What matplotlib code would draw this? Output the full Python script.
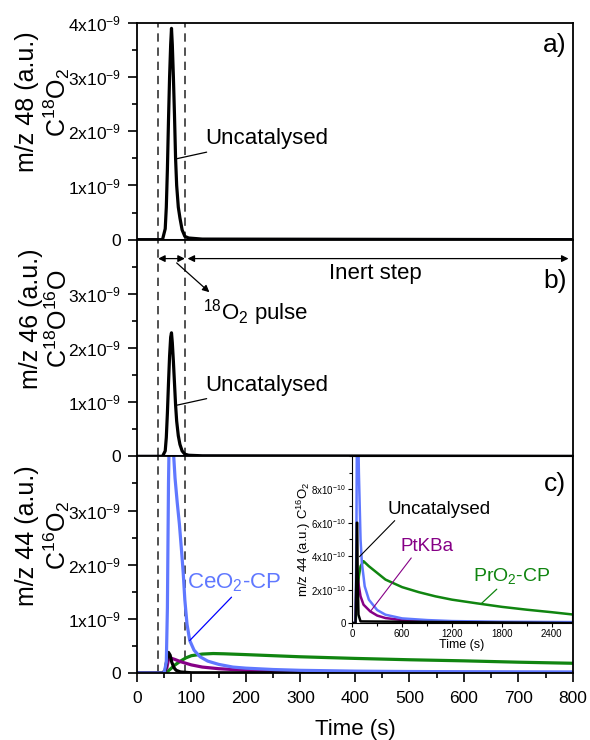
import matplotlib
matplotlib.use('agg')
import matplotlib.pyplot as plt
from matplotlib.ticker import MultipleLocator, FixedLocator, FuncFormatter

plt.rcParams['font.family'] = ['Liberation Sans', 'DejaVu Sans']
plt.rcParams['mathtext.fontset'] = 'custom'
plt.rcParams['mathtext.rm'] = 'Liberation Sans'
plt.rcParams['mathtext.it'] = 'Liberation Sans:italic'
plt.rcParams['mathtext.bf'] = 'Liberation Sans:bold'

# pulse window (s)
pulse_start = 39
pulse_end = 88

# a) m/z 48, uncatalysed (x1e-9)
t_48 = [0, 47, 52, 54, 56, 58, 60, 62, 63.5, 65, 67, 69, 71, 73, 76, 79, 83, 88, 95, 120, 800]
unc_48 = [0, 0, 0.2, 0.6, 1.3, 2.2, 3.0, 3.6, 3.9, 3.6, 3.0, 2.3, 1.5, 1.0, 0.6, 0.4, 0.18, 0.06, 0.03, 0.01, 0]

# b) m/z 46, uncatalysed (x1e-9)
t_46 = [0, 47, 52, 54, 56, 58, 60, 62, 63.5, 65, 67, 69, 71, 73, 76, 79, 83, 88, 95, 120, 800]
unc_46 = [0, 0, 0.1, 0.35, 0.8, 1.35, 1.85, 2.2, 2.28, 2.1, 1.75, 1.35, 0.95, 0.65, 0.38, 0.22, 0.1, 0.04, 0.02, 0.01, 0]

# catalysts that give ~no signal at m/z 48 / 46
t_flat = [0, 800]
flat = [0, 0]

# c) m/z 44 (x1e-9)
t_unc44 = [0, 47, 52, 55, 58, 61, 64, 68, 72, 80, 100, 800]
unc_44 = [0, 0, 0.05, 0.25, 0.38, 0.33, 0.2, 0.1, 0.05, 0.02, 0.005, 0]

t_pt = [0, 50, 55, 58, 61, 70, 80, 100, 120, 150, 200, 300, 400, 600, 800]
ptkba_44 = [0, 0, 0.1, 0.25, 0.28, 0.25, 0.21, 0.15, 0.11, 0.08, 0.05, 0.03, 0.02, 0.012, 0.008]

t_pr = [0, 50, 55, 60, 70, 80, 90, 100, 120, 140, 160, 200, 300, 400, 500, 600, 700, 800]
pro2_44 = [0, 0, 0.02, 0.06, 0.15, 0.22, 0.28, 0.32, 0.35, 0.36, 0.355, 0.34, 0.3, 0.27, 0.245, 0.225, 0.2, 0.18]

t_ce = [0, 50, 54, 56, 58, 60, 62, 64, 67, 70, 74, 78, 82, 85, 88, 92, 97, 105, 116, 130, 150, 176,
        200, 250, 300, 400, 500, 600, 800]
ceo2_44 = [0, 0, 0.2, 1.2, 3.5, 4.8, 4.9, 4.6, 4.1, 3.6, 3.15, 2.75, 2.25, 1.85, 1.35, 0.9, 0.6, 0.42,
           0.3, 0.22, 0.16, 0.11, 0.09, 0.065, 0.05, 0.035, 0.028, 0.024, 0.02]

# inset, long time scale (x1e-10)
ti_unc = [0, 40, 50, 55, 60, 65, 75, 100, 2640]
ins_unc = [0, 0, 3, 6, 6, 3, 0.5, 0.1, 0]
ti_ce = [0, 40, 50, 60, 70, 80, 90, 100, 116, 150, 200, 300, 400, 600, 900, 1200, 1800, 2640]
ins_ce = [0, 0, 5, 15, 12, 9, 7, 5, 3.6, 2.2, 1.4, 0.78, 0.5, 0.28, 0.18, 0.12, 0.08, 0.06]
ti_pt = [0, 40, 50, 60, 80, 100, 136, 216, 300, 400, 600, 900, 1200, 1800, 2640]
ins_pt = [0, 0, 2.5, 3.0, 2.2, 1.6, 1.1, 0.7, 0.45, 0.3, 0.18, 0.1, 0.07, 0.04, 0.03]
ti_pr = [0, 40, 60, 80, 100, 136, 200, 300, 400, 600, 800, 1000, 1200, 1500, 1800, 2100, 2400, 2640]
ins_pr = [0, 0, 1.5, 2.8, 3.4, 3.7, 3.4, 3.0, 2.6, 2.15, 1.85, 1.6, 1.4, 1.18, 0.97, 0.8, 0.65, 0.52]

c_blue = '#6078ff'
c_green = '#108510'
c_purple = '#860086'
c_navy = '#00007f'


def fmt9(v, pos):
    k = int(round(v / 1e-9))
    return '0' if k == 0 else '%dx10$^{-9}$' % k


def fmt10(v, pos):
    k = int(round(v / 1e-10))
    return '0' if k == 0 else '%dx10$^{-10}$' % k


def sc(vals, f):
    return [v * f for v in vals]


fig = plt.figure(figsize=(5.9, 7.4), dpi=100)
gs = fig.add_gridspec(3, 1, left=0.232, right=0.971, bottom=0.0905, top=0.969, hspace=0)
axes = [fig.add_subplot(gs[i]) for i in range(3)]
ylabels = ['m/z 48 (a.u.)\nC$^{18}$O$_2$', 'm/z 46 (a.u.)\nC$^{18}$O$^{16}$O', 'm/z 44 (a.u.)\nC$^{16}$O$_2$']

for i, ax in enumerate(axes):
    ax.set_xlim(0, 800)
    ax.set_ylim(0, 4e-9)
    ax.xaxis.set_major_locator(MultipleLocator(100))
    ax.xaxis.set_minor_locator(MultipleLocator(50))
    # top tick of b) and c) is shared with the 0 of the panel above
    top = 5 if i == 0 else 4
    ax.yaxis.set_major_locator(FixedLocator([k * 1e-9 for k in range(top)]))
    ax.yaxis.set_minor_locator(FixedLocator([(k + 0.5) * 1e-9 for k in range(4)]))
    ax.yaxis.set_major_formatter(FuncFormatter(fmt9))
    ax.tick_params(which='major', direction='out', length=6.5, width=1.2, labelsize=12.5)
    ax.tick_params(which='minor', direction='out', length=3.5, width=1.2)
    ax.tick_params(axis='y', pad=5)
    ax.tick_params(axis='x', pad=6.5)
    for s in ax.spines.values():
        s.set_linewidth(1.3)
    ax.axvline(pulse_start, color='#333333', ls=(0, (5, 3.5)), lw=1.2, zorder=1)
    ax.axvline(pulse_end, color='#333333', ls=(0, (5, 3.5)), lw=1.2, zorder=1)
    ax.text(-0.149, 0.635, ylabels[i], transform=ax.transAxes, rotation=90, fontsize=18,
            ha='right', va='center', multialignment='center', linespacing=1.1)
    if i < 2:
        ax.tick_params(axis='x', which='both', bottom=False, labelbottom=False)

ax_a, ax_b, ax_c = axes

# a)
for ax in (ax_a, ax_b):
    ax.plot(t_flat, flat, color=c_green, lw=2)
    ax.plot(t_flat, flat, color=c_purple, lw=2)
    ax.plot(t_flat, flat, color=c_blue, lw=2)
ax_a.plot(t_48, sc(unc_48, 1e-9), color='black', lw=2.3)
ax_a.plot(t_flat, flat, color=c_navy, lw=2.2)
ax_a.annotate('Uncatalysed', xy=(71.5, 1.49e-9), xytext=(126, 1.86e-9), fontsize=16, va='center',
              arrowprops=dict(arrowstyle='-', color='black', lw=0.9, shrinkA=0, shrinkB=0))
ax_a.text(0.985, 0.9, 'a)', transform=ax_a.transAxes, fontsize=19, ha='right', va='center')

# b)
ax_b.plot(t_46, sc(unc_46, 1e-9), color='black', lw=2.3)
ax_b.plot(t_flat, flat, color=c_navy, lw=2.2)
ax_b.annotate('Uncatalysed', xy=(71.5, 0.94e-9), xytext=(126, 1.31e-9), fontsize=16, va='center',
              arrowprops=dict(arrowstyle='-', color='black', lw=0.9, shrinkA=0, shrinkB=0))
ax_b.annotate('', xy=(pulse_start, 3.65e-9), xytext=(pulse_end, 3.65e-9),
              arrowprops=dict(arrowstyle='<|-|>', color='black', lw=0.9, mutation_scale=10,
                              shrinkA=0, shrinkB=0))
ax_b.annotate('', xy=(93, 3.65e-9), xytext=(792, 3.65e-9),
              arrowprops=dict(arrowstyle='<|-|>', color='black', lw=0.9, mutation_scale=10,
                              shrinkA=0, shrinkB=0))
ax_b.annotate('', xy=(133, 3.03e-9), xytext=(73, 3.57e-9),
              arrowprops=dict(arrowstyle='-|>', color='black', lw=0.9, mutation_scale=10,
                              shrinkA=0, shrinkB=0))
ax_b.text(122, 2.65e-9, '$^{18}$O$_2$ pulse', fontsize=16, va='center', ha='left')
ax_b.text(437, 3.37e-9, 'Inert step', fontsize=16, va='center', ha='center')
ax_b.text(0.985, 0.81, 'b)', transform=ax_b.transAxes, fontsize=19, ha='right', va='center')

# c)
ax_c.plot(t_pr, sc(pro2_44, 1e-9), color=c_green, lw=2.3)
ax_c.plot(t_pt, sc(ptkba_44, 1e-9), color=c_purple, lw=2.3)
ax_c.plot(t_unc44, sc(unc_44, 1e-9), color='black', lw=2.3)
ax_c.plot(t_ce, sc(ceo2_44, 1e-9), color=c_blue, lw=2.3)
ax_c.annotate('CeO$_2$-CP', xy=(97, 0.6e-9), xytext=(92, 1.66e-9), fontsize=16, va='center',
              color=c_blue,
              arrowprops=dict(arrowstyle='-', color='#0000ff', lw=0.9, shrinkA=0, shrinkB=0,
                              relpos=(0.5, 0)))
ax_c.set_xlabel('Time (s)', fontsize=16, labelpad=9)

# inset
axi = fig.add_axes([0.597, 0.158, 0.372, 0.226])
axi.set_xlim(0, 2640)
axi.set_ylim(0, 1e-9)
axi.xaxis.set_major_locator(MultipleLocator(600))
axi.xaxis.set_minor_locator(MultipleLocator(300))
axi.yaxis.set_major_locator(FixedLocator([k * 2e-10 for k in range(5)]))
axi.yaxis.set_minor_locator(MultipleLocator(1e-10))
axi.yaxis.set_major_formatter(FuncFormatter(fmt10))
axi.tick_params(which='major', direction='out', length=3, width=0.8, labelsize=7, pad=1.5)
axi.tick_params(which='minor', direction='out', length=2, width=0.8)
axi.plot(ti_pr, sc(ins_pr, 1e-10), color=c_green, lw=1.8)
axi.plot(ti_pt, sc(ins_pt, 1e-10), color=c_purple, lw=1.8)
axi.plot(ti_ce, sc(ins_ce, 1e-10), color=c_blue, lw=1.8)
axi.plot(ti_unc, sc(ins_unc, 1e-10), color='black', lw=1.8)
axi.set_xlabel('Time (s)', fontsize=9, labelpad=0)
axi.set_ylabel('m/z 44 (a.u.) C$^{16}$O$_2$', fontsize=9.5, labelpad=-1)
axi.annotate('Uncatalysed', xy=(87, 3.97e-10), xytext=(420, 6.8e-10), fontsize=13.5, va='center',
             arrowprops=dict(arrowstyle='-', color='black', lw=0.8, shrinkA=0, shrinkB=0,
                             relpos=(0.1, 0)))
axi.annotate('PtKBa', xy=(216, 0.68e-10), xytext=(576, 4.57e-10), fontsize=13.5, va='center',
             color=c_purple,
             arrowprops=dict(arrowstyle='-', color=c_purple, lw=0.8, shrinkA=0, shrinkB=0,
                             relpos=(0.25, 0)))
axi.annotate('PrO$_2$-CP', xy=(1556, 1.18e-10), xytext=(1448, 2.79e-10), fontsize=14, va='center',
             color=c_green,
             arrowprops=dict(arrowstyle='-', color=c_green, lw=0.9, shrinkA=0, shrinkB=0,
                             relpos=(0.35, 0)))

# panel label c) sits on top of the inset
axi.text(0.975, 0.83, 'c)', transform=axi.transAxes, fontsize=19, ha='right', va='center')

fig.savefig('out.png', dpi=100)
plt.close(fig)
